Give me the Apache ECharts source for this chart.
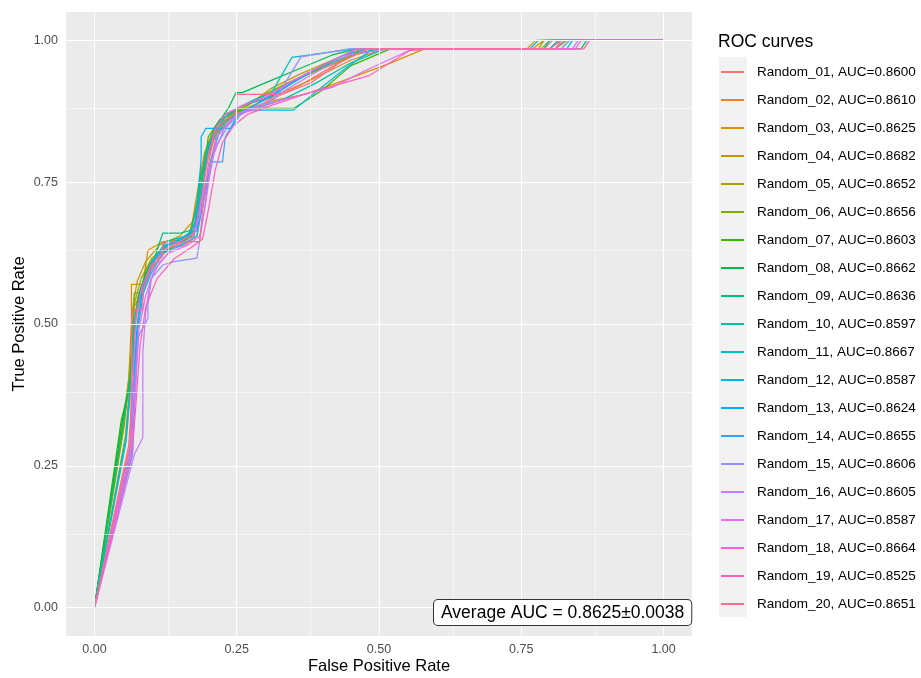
<!DOCTYPE html>
<html>
<head>
<meta charset="utf-8">
<script src="https://cdn.jsdelivr.net/npm/echarts@6/dist/echarts.min.js"></script>
<style>
	html, body { margin: 0; padding: 0; background: #fff; }
	#chart { width: 921px; height: 678px; }
</style>
</head>
<body>
<div id="chart"></div>
<script>
	'use strict';

	// run names and AUC values as printed in the legend
	var runIds = ["Random_01", "Random_02", "Random_03", "Random_04", "Random_05",
		"Random_06", "Random_07", "Random_08", "Random_09", "Random_10",
		"Random_11", "Random_12", "Random_13", "Random_14", "Random_15",
		"Random_16", "Random_17", "Random_18", "Random_19", "Random_20"];
	var aucs = ["0.8600", "0.8610", "0.8625", "0.8682", "0.8652", "0.8656", "0.8603",
		"0.8662", "0.8636", "0.8597", "0.8667", "0.8587", "0.8624", "0.8655",
		"0.8606", "0.8605", "0.8587", "0.8664", "0.8525", "0.8651"];
	var averageLabel = "Average AUC = 0.8625\u00b10.0038";

	var xTicks = [0, 0.25, 0.5, 0.75, 1];
	var yTicks = [0, 0.25, 0.5, 0.75, 1];
	var minorTicks = [0.125, 0.375, 0.625, 0.875];

	// ROC points [FPR, TPR]
	var roc01 = [[0,0],[0.060,0.285],[0.068,0.40],[0.072,0.50],[0.082,0.555],[0.10,0.595],[0.125,0.63],[0.16,0.64],[0.18,0.655],[0.19,0.72],[0.205,0.79],[0.215,0.835],[0.235,0.86],[0.26,0.875],[0.30,0.89],[0.36,0.92],[0.42,0.955],[0.47,0.985],[0.79,0.985],[0.805,1],[1,1]];
	var roc02 = [[0,0],[0.054,0.30],[0.066,0.44],[0.07,0.53],[0.088,0.57],[0.105,0.61],[0.135,0.635],[0.17,0.655],[0.182,0.70],[0.195,0.775],[0.21,0.83],[0.23,0.855],[0.255,0.875],[0.30,0.895],[0.38,0.93],[0.45,0.965],[0.51,0.985],[0.80,0.985],[0.82,1],[1,1]];
	var roc03 = [[0,0],[0.046,0.30],[0.065,0.415],[0.065,0.57],[0.085,0.57],[0.094,0.63],[0.12,0.645],[0.165,0.65],[0.175,0.69],[0.185,0.75],[0.20,0.82],[0.22,0.85],[0.245,0.87],[0.27,0.88],[0.32,0.895],[0.37,0.905],[0.44,0.93],[0.52,0.96],[0.58,0.985],[0.77,0.985],[0.79,1],[1,1]];
	var roc04 = [[0,0],[0.044,0.29],[0.06,0.40],[0.066,0.52],[0.075,0.575],[0.09,0.61],[0.115,0.64],[0.15,0.655],[0.172,0.68],[0.182,0.74],[0.193,0.80],[0.21,0.845],[0.23,0.87],[0.27,0.885],[0.31,0.915],[0.36,0.94],[0.43,0.97],[0.47,0.985],[0.76,0.985],[0.775,1],[1,1]];
	var roc05 = [[0,0],[0.05,0.31],[0.063,0.43],[0.07,0.535],[0.082,0.58],[0.10,0.615],[0.13,0.64],[0.165,0.655],[0.178,0.70],[0.19,0.76],[0.205,0.82],[0.225,0.855],[0.25,0.875],[0.29,0.90],[0.34,0.925],[0.40,0.95],[0.46,0.975],[0.50,0.985],[0.78,0.985],[0.79,1],[1,1]];
	var roc06 = [[0,0],[0.052,0.32],[0.064,0.43],[0.07,0.555],[0.085,0.555],[0.09,0.595],[0.11,0.625],[0.14,0.645],[0.175,0.655],[0.185,0.735],[0.195,0.805],[0.21,0.84],[0.235,0.865],[0.26,0.88],[0.30,0.905],[0.35,0.93],[0.42,0.96],[0.48,0.985],[0.785,0.985],[0.80,1],[1,1]];
	var roc07 = [[0,0],[0.047,0.33],[0.062,0.39],[0.068,0.49],[0.076,0.545],[0.09,0.59],[0.115,0.625],[0.15,0.64],[0.175,0.66],[0.183,0.72],[0.185,0.755],[0.195,0.79],[0.20,0.83],[0.22,0.86],[0.25,0.875],[0.28,0.88],[0.35,0.88],[0.40,0.912],[0.45,0.955],[0.52,0.985],[0.81,0.985],[0.83,1],[1,1]];
	var roc08 = [[0,0],[0.048,0.325],[0.063,0.40],[0.07,0.50],[0.08,0.56],[0.095,0.60],[0.12,0.635],[0.16,0.65],[0.178,0.67],[0.188,0.75],[0.20,0.81],[0.215,0.85],[0.235,0.88],[0.249,0.908],[0.26,0.908],[0.30,0.925],[0.36,0.95],[0.42,0.975],[0.46,0.985],[0.855,0.985],[0.865,1],[1,1]];
	var roc09 = [[0,0],[0.05,0.32],[0.064,0.41],[0.07,0.51],[0.085,0.565],[0.10,0.60],[0.12,0.66],[0.15,0.66],[0.17,0.665],[0.185,0.73],[0.195,0.79],[0.21,0.835],[0.23,0.865],[0.26,0.885],[0.31,0.90],[0.37,0.94],[0.45,0.975],[0.50,0.985],[0.80,0.985],[0.815,1],[1,1]];
	var roc10 = [[0,0],[0.055,0.30],[0.066,0.42],[0.072,0.52],[0.09,0.575],[0.10,0.605],[0.125,0.645],[0.16,0.655],[0.18,0.67],[0.19,0.74],[0.20,0.80],[0.218,0.845],[0.24,0.865],[0.28,0.88],[0.33,0.895],[0.39,0.925],[0.45,0.96],[0.51,0.985],[0.82,0.985],[0.835,1],[1,1]];
	var roc11 = [[0,0],[0.056,0.295],[0.067,0.43],[0.073,0.525],[0.087,0.57],[0.10,0.61],[0.125,0.64],[0.16,0.65],[0.178,0.68],[0.188,0.75],[0.198,0.81],[0.215,0.85],[0.24,0.875],[0.28,0.895],[0.311,0.907],[0.347,0.97],[0.455,0.985],[0.79,0.985],[0.80,1],[1,1]];
	var roc12 = [[0,0],[0.062,0.27],[0.068,0.38],[0.074,0.48],[0.082,0.545],[0.10,0.59],[0.12,0.625],[0.155,0.64],[0.18,0.655],[0.192,0.72],[0.205,0.79],[0.22,0.84],[0.245,0.865],[0.265,0.877],[0.35,0.877],[0.39,0.91],[0.44,0.95],[0.49,0.985],[0.83,0.985],[0.84,1],[1,1]];
	var roc13 = [[0,0],[0.065,0.275],[0.07,0.40],[0.075,0.50],[0.085,0.56],[0.10,0.60],[0.12,0.635],[0.15,0.65],[0.175,0.665],[0.182,0.73],[0.1875,0.79],[0.1875,0.83],[0.196,0.845],[0.24,0.845],[0.26,0.875],[0.29,0.89],[0.34,0.92],[0.40,0.955],[0.46,0.985],[0.765,0.985],[0.78,1],[1,1]];
	var roc14 = [[0,0],[0.067,0.27],[0.072,0.39],[0.076,0.49],[0.088,0.565],[0.105,0.61],[0.13,0.64],[0.16,0.65],[0.18,0.665],[0.195,0.73],[0.205,0.786],[0.225,0.786],[0.23,0.83],[0.25,0.865],[0.28,0.885],[0.32,0.91],[0.38,0.945],[0.44,0.975],[0.48,0.985],[0.80,0.985],[0.815,1],[1,1]];
	var roc15 = [[0,0],[0.062,0.28],[0.07,0.39],[0.078,0.48],[0.094,0.51],[0.094,0.533],[0.10,0.58],[0.12,0.604],[0.14,0.61],[0.18,0.616],[0.19,0.68],[0.20,0.75],[0.212,0.81],[0.235,0.85],[0.26,0.875],[0.29,0.877],[0.32,0.90],[0.363,0.971],[0.448,0.985],[0.82,0.985],[0.835,1],[1,1]];
	var roc16 = [[0,0],[0.07,0.27],[0.085,0.30],[0.085,0.45],[0.09,0.52],[0.098,0.575],[0.115,0.61],[0.14,0.635],[0.17,0.65],[0.185,0.69],[0.195,0.75],[0.21,0.80],[0.228,0.845],[0.25,0.87],[0.29,0.885],[0.34,0.915],[0.40,0.95],[0.45,0.975],[0.52,0.985],[0.84,0.985],[0.85,1],[1,1]];
	var roc17 = [[0,0],[0.065,0.28],[0.072,0.38],[0.078,0.49],[0.09,0.55],[0.105,0.595],[0.13,0.625],[0.165,0.64],[0.185,0.655],[0.195,0.71],[0.205,0.78],[0.215,0.83],[0.24,0.86],[0.27,0.875],[0.33,0.895],[0.418,0.917],[0.466,0.942],[0.548,0.98],[0.56,0.985],[0.845,0.985],[0.855,1],[1,1]];
	var roc18 = [[0,0],[0.063,0.285],[0.068,0.41],[0.072,0.51],[0.083,0.565],[0.098,0.60],[0.12,0.63],[0.15,0.645],[0.175,0.66],[0.19,0.73],[0.20,0.80],[0.213,0.845],[0.23,0.87],[0.26,0.885],[0.30,0.90],[0.35,0.93],[0.41,0.96],[0.46,0.985],[0.81,0.985],[0.825,1],[1,1]];
	var roc19 = [[0,0],[0.066,0.27],[0.073,0.36],[0.08,0.46],[0.09,0.53],[0.11,0.58],[0.14,0.615],[0.17,0.635],[0.19,0.65],[0.20,0.70],[0.212,0.77],[0.225,0.82],[0.245,0.85],[0.27,0.87],[0.31,0.885],[0.372,0.906],[0.483,0.938],[0.554,0.982],[0.59,0.985],[0.86,0.985],[0.87,1],[1,1]];
	var roc20 = [[0,0],[0.063,0.29],[0.0655,0.416],[0.0655,0.525],[0.085,0.525],[0.085,0.56],[0.10,0.60],[0.12,0.62],[0.12,0.645],[0.185,0.645],[0.19,0.70],[0.20,0.78],[0.21,0.83],[0.22,0.85],[0.25,0.875],[0.25,0.905],[0.33,0.905],[0.38,0.925],[0.43,0.96],[0.48,0.985],[0.81,0.985],[0.82,1],[1,1]];

	var curves = [roc01, roc02, roc03, roc04, roc05, roc06, roc07, roc08, roc09, roc10,
		roc11, roc12, roc13, roc14, roc15, roc16, roc17, roc18, roc19, roc20];

	// ggplot2 default hue palette for 20 levels
	var palette = ["#F8766D", "#EA8331", "#D89000", "#C09B00", "#A3A500", "#7CAE00", "#39B600",
		"#00BB4E", "#00BF7D", "#00C1A3", "#00BFC4", "#00BAE0", "#00B0F6", "#35A2FF",
		"#9590FF", "#C77CFF", "#E76BF3", "#FA62DB", "#FF62BC", "#FF6C91"];

	var font = "'Liberation Sans', Arial, sans-serif";

	var names = [];
	for (var i = 0; i < runIds.length; i++) {
		names.push(runIds[i] + ", AUC=" + aucs[i]);
	}

	var gridLines = [];
	xTicks.forEach(function(v) { gridLines.push({ xAxis: v, lineStyle: { width: 1.1 } }); });
	yTicks.forEach(function(v) { gridLines.push({ yAxis: v, lineStyle: { width: 1.1 } }); });
	minorTicks.forEach(function(v) {
		gridLines.push({ xAxis: v, lineStyle: { width: 0.55 } });
		gridLines.push({ yAxis: v, lineStyle: { width: 0.55 } });
	});

	var series = [{
		name: "grid",
		type: "line",
		data: [],
		z: 1,
		silent: true,
		markLine: {
			silent: true,
			symbol: "none",
			animation: false,
			label: { show: false },
			lineStyle: { color: "#ffffff", type: "solid" },
			emphasis: { disabled: true },
			data: gridLines
		}
	}];

	curves.forEach(function(pts, idx) {
		series.push({
			name: names[idx],
			type: "line",
			data: pts,
			z: 2,
			showSymbol: false,
			symbol: "none",
			animation: false,
			lineStyle: { color: palette[idx], width: 1.25 },
			itemStyle: { color: palette[idx] },
			emphasis: { disabled: true }
		});
	});

	var axisLabelFmt = function(v) { return v.toFixed(2); };

	var option = {
		backgroundColor: "#ffffff",
		animation: false,
		textStyle: { fontFamily: font },
		title: {
			text: "ROC curves",
			left: 716,
			top: 33,
			padding: [0, 2],
			textStyle: { fontFamily: font, fontSize: 17.5, fontWeight: "normal", color: "#000000" }
		},
		grid: {
			left: 66, right: 229, top: 12, bottom: 42,
			outerBoundsMode: "none",
			containLabel: false,
			show: true, backgroundColor: "#EBEBEB", borderWidth: 0
		},
		xAxis: {
			type: "value",
			min: -0.05, max: 1.05,
			name: "False Positive Rate",
			nameLocation: "middle",
			nameGap: 22,
			nameMoveOverlap: false,
			nameTextStyle: { fontFamily: font, fontSize: 16.5, color: "#000000" },
			axisLine: { show: false },
			splitLine: { show: false },
			axisTick: { show: true, customValues: xTicks, length: 4, lineStyle: { color: "#333333", width: 1 } },
			axisLabel: { customValues: xTicks, formatter: axisLabelFmt, color: "#4D4D4D", fontSize: 12.5, margin: 7 }
		},
		yAxis: {
			type: "value",
			min: -0.05, max: 1.05,
			name: "True Positive Rate",
			nameLocation: "middle",
			nameGap: 38,
			nameMoveOverlap: false,
			nameTextStyle: { fontFamily: font, fontSize: 16.5, color: "#000000" },
			axisLine: { show: false },
			splitLine: { show: false },
			axisTick: { show: true, customValues: yTicks, length: 4, lineStyle: { color: "#333333", width: 1 } },
			axisLabel: { customValues: yTicks, formatter: axisLabelFmt, color: "#4D4D4D", fontSize: 12.5, margin: 8 }
		},
		legend: {
			data: names,
			orient: "vertical",
			left: 721,
			top: 58,
			padding: 0,
			icon: "rect",
			itemWidth: 23,
			itemHeight: 2,
			itemGap: 0,
			selectedMode: false,
			textStyle: { fontFamily: font, fontSize: 13.5, color: "#000000", lineHeight: 28, height: 28, padding: [0, 0, 0, 8] }
		},
		graphic: [{
			type: "rect",
			left: 719,
			top: 57,
			z: 0,
			shape: { width: 28, height: 560 },
			style: { fill: "#F2F2F2" },
			silent: true
		}, {
			type: "text",
			left: 433,
			top: 599,
			z: 10,
			style: {
				text: averageLabel,
				font: "17.5px " + font,
				fill: "#000000",
				backgroundColor: "#ffffff",
				borderColor: "#333333",
				borderWidth: 1,
				borderRadius: 4,
				padding: [4, 7, 3, 7]
			}
		}],
		series: series
	};

	var chart = echarts.init(document.getElementById("chart"), null, { renderer: "canvas" });
	chart.setOption(option);
</script>
</body>
</html>
